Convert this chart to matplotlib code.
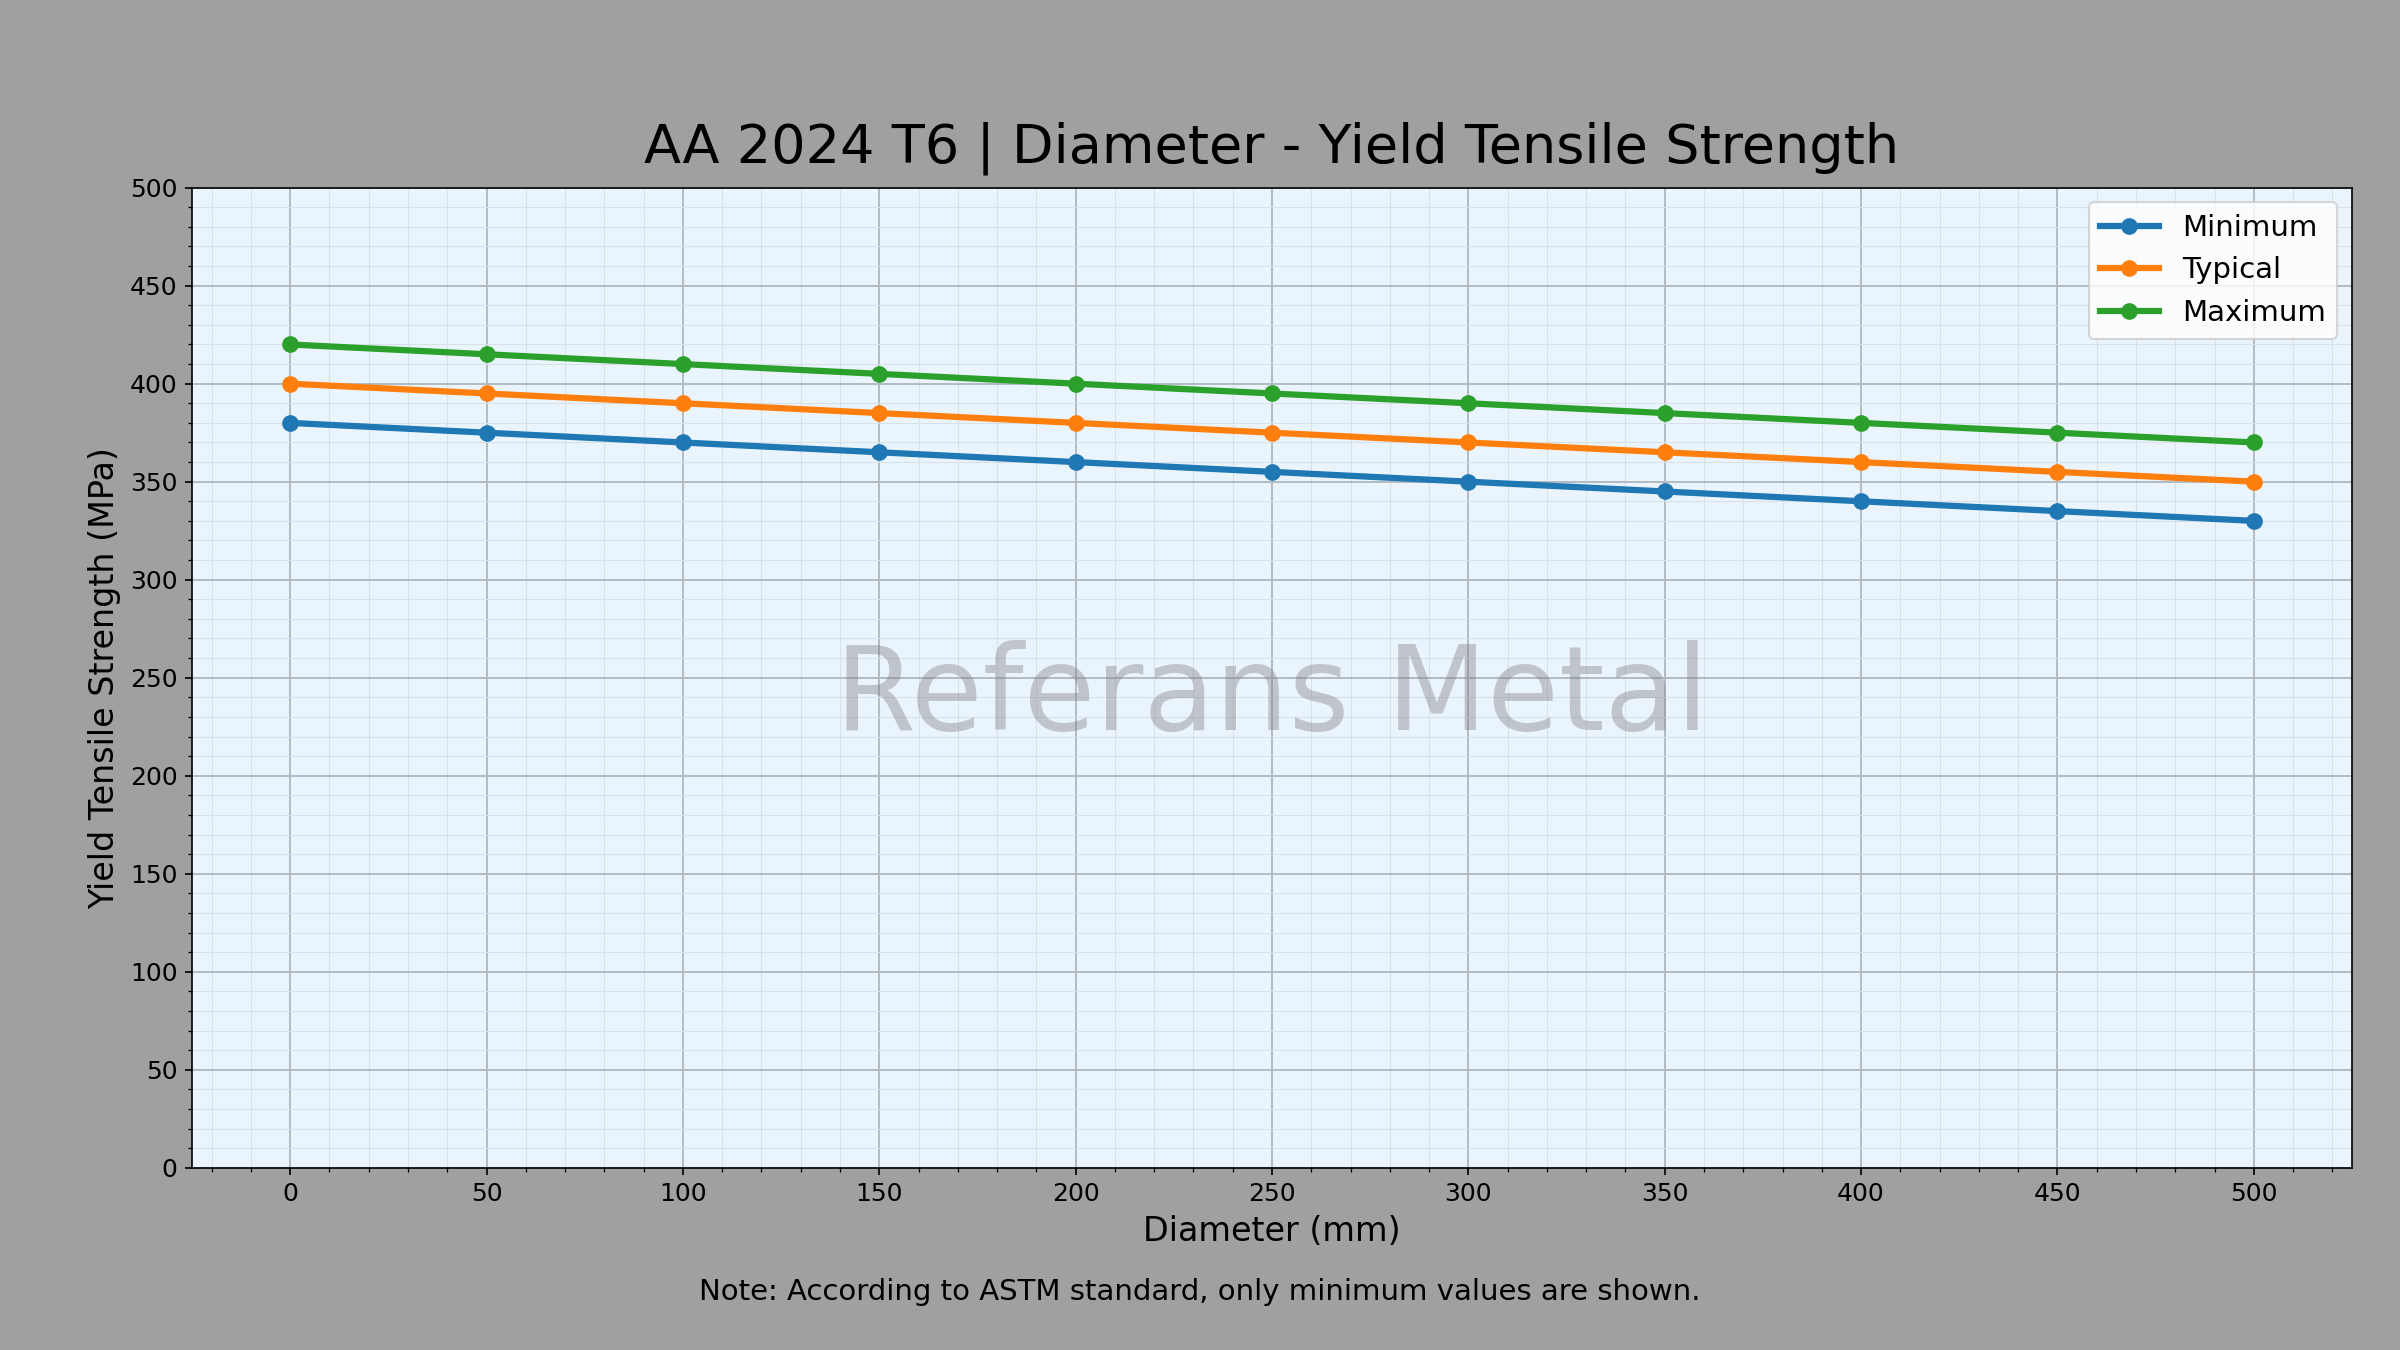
import matplotlib
matplotlib.use("Agg")
import matplotlib.pyplot as plt
from matplotlib.ticker import AutoMinorLocator

# data
diameter = [0, 50, 100, 150, 200, 250, 300, 350, 400, 450, 500]
minimum = [380, 375, 370, 365, 360, 355, 350, 345, 340, 335, 330]
typical = [400, 395, 390, 385, 380, 375, 370, 365, 360, 355, 350]
maximum = [420, 415, 410, 405, 400, 395, 390, 385, 380, 375, 370]

fig = plt.figure(figsize=(16, 9), dpi=150, facecolor="#a0a0a0")
ax = fig.add_axes([0.08, 0.135, 0.9, 0.726])
ax.set_facecolor("#eaf4fd")

ax.plot(diameter, minimum, "-o", color="#1f77b4", lw=3, ms=7, label="Minimum")
ax.plot(diameter, typical, "-o", color="#ff7f0e", lw=3, ms=7, label="Typical")
ax.plot(diameter, maximum, "-o", color="#2ca02c", lw=3, ms=7, label="Maximum")

ax.set_xlim(-25, 525)
ax.set_ylim(0, 500)
ax.set_xticks(range(0, 501, 50))
ax.set_yticks(range(0, 501, 50))
ax.xaxis.set_minor_locator(AutoMinorLocator(5))
ax.yaxis.set_minor_locator(AutoMinorLocator(5))
ax.grid(which="major", color="#b0b8c0", lw=0.9)
ax.grid(which="minor", color="#d8e0e8", lw=0.5)
ax.tick_params(labelsize=12)

ax.set_title("AA 2024 T6 | Diameter - Yield Tensile Strength", fontsize=26, pad=12)
ax.set_xlabel("Diameter (mm)", fontsize=16)
ax.set_ylabel("Yield Tensile Strength (MPa)", fontsize=16)
ax.legend(loc="upper right", fontsize=14)

ax.text(0.5, 0.48, "Referans Metal", transform=ax.transAxes, fontsize=56,
        color="gray", alpha=0.4, ha="center", va="center")
fig.text(0.5, 0.037, "Note: According to ASTM standard, only minimum values are shown.",
         ha="center", fontsize=14)

fig.savefig("out.png", dpi=150, facecolor=fig.get_facecolor())
